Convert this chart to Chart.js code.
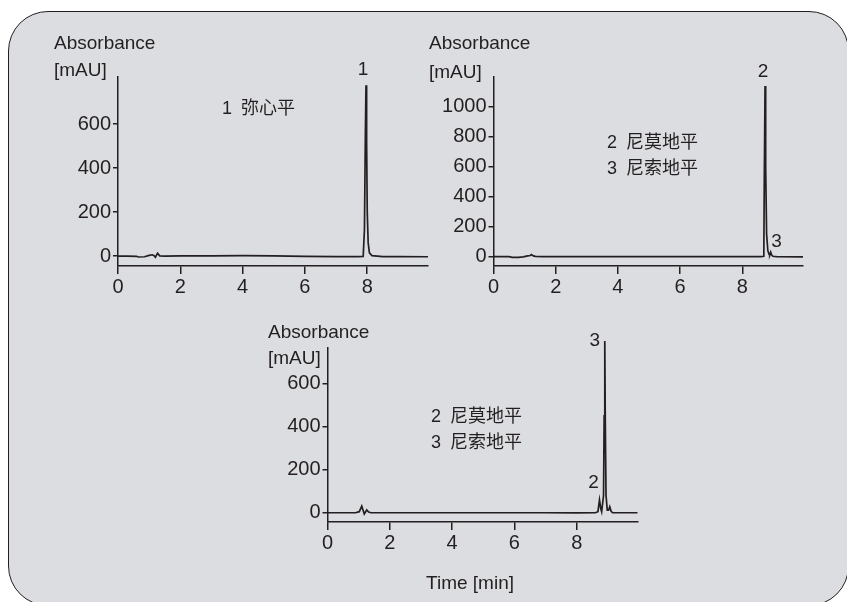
<!DOCTYPE html>
<html>
<head>
<meta charset="utf-8">
<script src="https://cdn.jsdelivr.net/npm/chart.js@4.4.0/dist/chart.umd.min.js"></script>
<style>
  html, body { margin: 0; padding: 0; background: #fff; overflow: hidden; }
  #quadro {
    position: absolute; left: 8px; top: 11px; width: 839px; height: 593px;
    border: 1.5px solid #231f20; border-radius: 40px; background: #dcdde0;
  }
  canvas { position: absolute; left: 0; top: 0; }
  .txt {
    position: absolute; font-family: "Liberation Sans", "Noto Sans CJK SC", sans-serif;
    font-size: 19px; line-height: 22px; color: #231f20; white-space: nowrap;
  }
  .cjk { font-family: "Liberation Sans", "Noto Sans CJK SC", sans-serif; font-size: 18px; }
  .cjk b { font-weight: normal; display: inline-block; width: 19px; }
</style>
</head>
<body>
<div id="quadro"></div>

<canvas id="graf1" width="847" height="602"></canvas>
<canvas id="graf2" width="847" height="602"></canvas>
<canvas id="graf3" width="847" height="602"></canvas>

<div class="txt" style="left:54px; top:32px;">Absorbance</div>
<div class="txt" style="left:54px; top:59px;">[mAU]</div>
<div class="txt" style="left:429px; top:32px;">Absorbance</div>
<div class="txt" style="left:429px; top:61px;">[mAU]</div>
<div class="txt" style="left:268px; top:321px;">Absorbance</div>
<div class="txt" style="left:268px; top:347px;">[mAU]</div>

<div class="txt cjk" style="left:222px; top:97px;"><b>1</b>弥心平</div>
<div class="txt cjk" style="left:607px; top:131px;"><b>2</b>尼莫地平</div>
<div class="txt cjk" style="left:607px; top:157px;"><b>3</b>尼索地平</div>
<div class="txt cjk" style="left:431px; top:405px;"><b>2</b>尼莫地平</div>
<div class="txt cjk" style="left:431px; top:431px;"><b>3</b>尼索地平</div>

<div class="txt" style="left:420px; top:572px; width:100px; text-align:center;">Time [min]</div>

<script>
var cor = '#231f20';
var fonte = '"Liberation Sans", sans-serif';

var ticksTempo = [0, 2, 4, 6, 8];

// cromatograma 1 - nitrendipino
var tempo1 = [0, 0.3, 0.6, 0.65, 0.85, 1.0, 1.1, 1.16, 1.2, 1.27, 1.34, 1.5, 2, 3, 4, 5, 6, 7, 7.7, 7.87, 7.91, 7.94, 7.96, 7.98, 8.0, 8.03, 8.07, 8.15, 8.5, 9.0, 9.95];
var abs1 = [0, 0, -1, -4, -3, 3, 6, 2, -5, 13, 1, 0, 1, 1, 2, 1, -1, -2, -2, -1, 120, 560, 777, 520, 200, 60, 15, 2, -2, -2, -3];
var ticksAbs1 = [0, 200, 400, 600];
var picoNomes1 = ['1'];
var picoTempos1 = [7.96];

// cromatograma 2 - nimodipino / nisoldipino
var tempo2 = [0, 0.5, 0.6, 0.8, 0.95, 1.1, 1.18, 1.22, 1.28, 1.35, 1.6, 3, 5, 7, 8, 8.6, 8.69, 8.705, 8.73, 8.75, 8.78, 8.82, 8.86, 8.88, 8.91, 8.94, 8.98, 9.1, 9.95];
var abs2 = [0, 0, -4, -4, -1, 5, 8, 14, 5, 2, 1, 1, 0, 0, 0, 0, 3, 500, 1138, 600, 150, 40, 15, 12, 30, 12, 3, 0, -1];
var ticksAbs2 = [0, 200, 400, 600, 800, 1000];
var picoNomes2 = ['2', '3'];
var picoTempos2 = [8.73, 8.91];

// cromatograma 3 - nimodipino / nisoldipino
var tempo3 = [0, 0.5, 0.9, 1.02, 1.1, 1.15, 1.18, 1.26, 1.32, 1.4, 3, 5, 7, 8, 8.6, 8.68, 8.73, 8.77, 8.8, 8.86, 8.88, 8.9, 8.915, 8.94, 8.98, 9.02, 9.06, 9.1, 9.15, 9.5, 9.95];
var abs3 = [0, 0, 0, 5, 31, 8, -6, 13, 3, 0, 0, 0, 0, -1, 0, 5, 60, 20, 5, 80, 450, 799, 450, 80, 12, 12, 28, 8, 0, 0, 0];
var ticksAbs3 = [0, 200, 400, 600];
var picoNomes3 = ['2', '3'];
var picoTempos3 = [8.73, 8.9];

// numeros dos picos desenhados sobre cada pico
var rotulosPico = {
  id: 'rotulosPico',
  afterDatasetsDraw: function (chart, args, opts) {
    var ctx = chart.ctx;
    var dados = chart.data.datasets[0].data;
    ctx.save();
    ctx.fillStyle = cor;
    ctx.font = '19px ' + fonte;
    ctx.textAlign = 'center';
    ctx.textBaseline = 'middle';
    for (var i = 0; i < opts.nomes.length; i++) {
      var p = null;
      for (var j = 0; j < dados.length; j++) {
        if (dados[j].x == opts.tempos[i]) p = dados[j];
      }
      var px = chart.scales.x.getPixelForValue(p.x);
      var py = chart.scales.y.getPixelForValue(p.y);
      ctx.fillText(opts.nomes[i], px + opts.desloc[i][0], py + opts.desloc[i][1]);
    }
    ctx.restore();
  }
};

function montarPontos(tempos, valores) {
  var pts = [];
  for (var i = 0; i < tempos.length; i++) {
    pts.push({ x: tempos[i], y: valores[i] });
  }
  return pts;
}

function eixo(min, max, lista, tam, horizontal) {
  return {
    type: 'linear',
    min: min,
    max: max,
    afterBuildTicks: function (s) {
      s.ticks = lista.map(function (v) { return { value: v }; });
    },
    afterFit: function (s) {
      if (horizontal) s.height = 30; else s.width = 60;
    },
    grid: { drawOnChartArea: false, drawTicks: true, tickLength: tam, color: cor, lineWidth: 1.5 },
    border: { display: true, color: cor, width: 1.5 },
    ticks: {
      color: cor,
      padding: horizontal ? 1 : 2,
      maxRotation: 0,
      autoSkip: false,
      font: { family: fonte, size: 20 },
      callback: function (v) { return String(v); }
    }
  };
}

function plotarCromatograma(id, tempos, valores, yMin, yMax, ticksY, nomes, tPicos, desloc, pad) {
  var ctx = document.getElementById(id).getContext('2d');
  return new Chart(ctx, {
    type: 'line',
    data: {
      datasets: [{
        data: montarPontos(tempos, valores),
        borderColor: cor,
        borderWidth: 1.7,
        pointRadius: 0,
        tension: 0,
        fill: false,
        clip: false
      }]
    },
    options: {
      responsive: false,
      animation: false,
      events: [],
      layout: { padding: pad },
      scales: {
        x: eixo(0, 9.95, ticksTempo, 8, true),
        y: eixo(yMin, yMax, ticksY, 5, false)
      },
      plugins: {
        legend: { display: false },
        tooltip: { enabled: false },
        rotulosPico: { nomes: nomes, tempos: tPicos, desloc: desloc }
      }
    },
    plugins: [rotulosPico]
  });
}

plotarCromatograma('graf1', tempo1, abs1, -45, 814, ticksAbs1, picoNomes1, picoTempos1,
  [[-3, -15]], { left: 58, right: 419, top: 77, bottom: 306 });

plotarCromatograma('graf2', tempo2, abs2, -62, 1198, ticksAbs2, picoNomes2, picoTempos2,
  [[-2, -14], [6, -10]], { left: 433.5, right: 44, top: 77, bottom: 306 });

plotarCromatograma('graf3', tempo3, abs3, -43, 766, ticksAbs3, picoNomes3, picoTempos3,
  [[-6, -17], [-10, 0]], { left: 267.5, right: 209.5, top: 348, bottom: 50 });
</script>
</body>
</html>
